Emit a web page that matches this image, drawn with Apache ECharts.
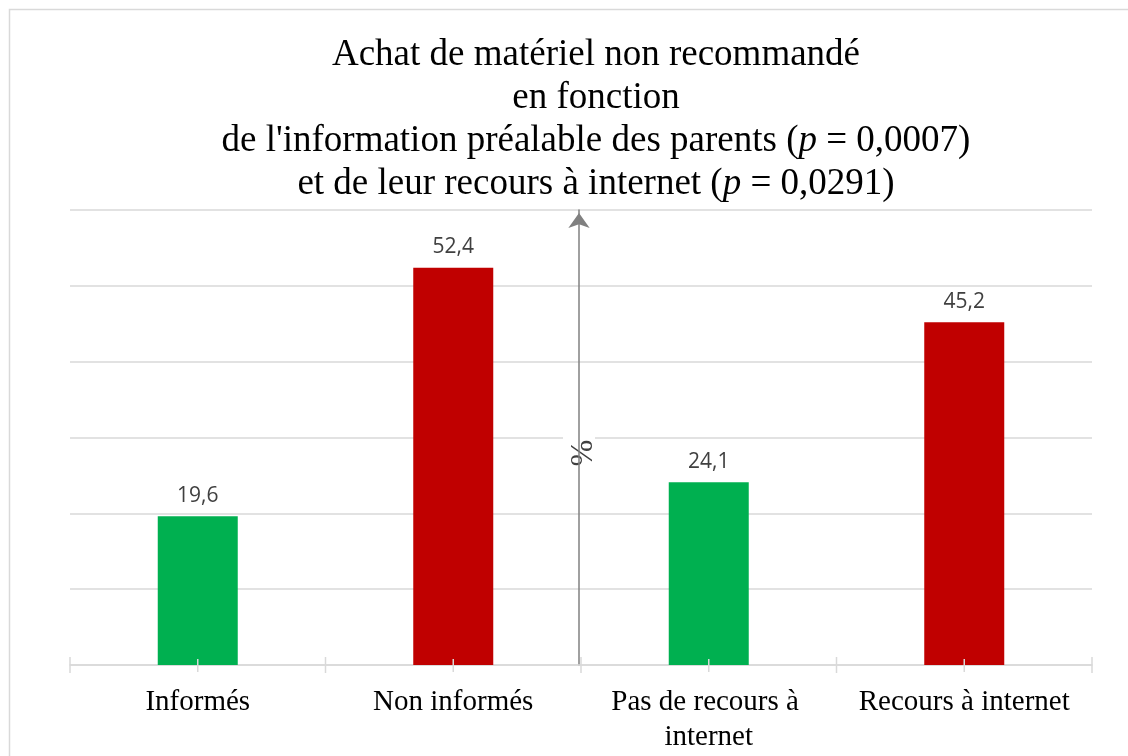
<!DOCTYPE html>
<html>
<head>
<meta charset="utf-8">
<script src="https://cdn.jsdelivr.net/npm/echarts@6/dist/echarts.min.js"></script>
<style>html,body{margin:0;padding:0;background:#fff}#c{width:1128px;height:756px}</style>
</head>
<body>
<div id="c"></div>
<script>
const categories = ['Informés', 'Non informés', 'Pas de recours à internet', 'Recours à internet'];
const values = [19.6, 52.4, 24.1, 45.2];
const barColors = ['#00B050', '#C00000', '#00B050', '#C00000'];
const yTicks = { min: 0, max: 60, interval: 10 };
const titleLines = [
  'Achat de matériel non recommandé',
  'en fonction',
  "de l'information préalable des parents ({i|p} = 0,0007)",
  'et de leur recours à internet ({i|p} = 0,0291)'
];

const chart = echarts.init(document.getElementById('c'));
const serif = 'Liberation Serif';
const gridLine = '#d9d9d9';

// tick marks at category boundaries and centres, placed through the category scale
function renderTicks(params, api) {
  const i = api.value(0);
  const p = api.coord([i, 0]);
  const w = api.size([1, 0])[0];
  const xs = [p[0] - w / 2, p[0]];
  if (i === categories.length - 1) xs.push(p[0] + w / 2);
  return {
    type: 'group',
    children: xs.map((x, k) => ({
      type: 'line',
      shape: { x1: x, y1: p[1] - (k === 1 ? 6 : 8), x2: x, y2: p[1] + (k === 1 ? 7 : 8) },
      style: { stroke: gridLine, lineWidth: 1.5 }
    }))
  };
}

chart.setOption({
  animation: false,
  backgroundColor: '#fff',
  graphic: [{
    type: 'rect', left: 7, top: 7, silent: true, z: -1,
    shape: { width: 1200, height: 800 },
    style: { fill: 'none', stroke: '#d9d9d9', lineWidth: 1.5 }
  }],
  title: {
    text: titleLines.join('\n'),
    left: 591, top: 29, textAlign: 'center',
    textStyle: {
      fontFamily: serif, fontSize: 37, fontWeight: 'normal', color: '#000', lineHeight: 43,
      rich: { i: { fontFamily: serif, fontSize: 37, fontStyle: 'italic', color: '#000', lineHeight: 43 } }
    }
  },
  grid: { left: 70, right: 36, top: 210, bottom: 91 },
  xAxis: {
    type: 'category', data: categories, position: 'bottom',
    axisLine: { show: true, lineStyle: { color: gridLine, width: 1.5 } },
    axisTick: { show: false },
    axisLabel: {
      color: '#000', fontFamily: serif, fontSize: 29, lineHeight: 35, margin: 20,
      width: 240, overflow: 'break', interval: 0
    },
    splitLine: { show: false }
  },
  yAxis: {
    type: 'value', min: yTicks.min, max: yTicks.max, interval: yTicks.interval,
    position: 'left', offset: -509,
    axisLine: {
      show: true, symbol: ['none', 'arrow'], symbolSize: [16, 15], symbolOffset: [0, -3],
      lineStyle: { color: '#808080', width: 1.5 }
    },
    axisTick: { show: false },
    axisLabel: { show: false },
    splitLine: { show: true, lineStyle: { color: gridLine, width: 1.5 } },
    name: '%', nameLocation: 'middle', nameGap: 0, nameRotate: -90,
    nameTextStyle: {
      fontFamily: serif, fontSize: 32, color: '#404040', align: 'center', verticalAlign: 'middle',
      backgroundColor: '#fff', padding: [0, 3, 0, 34]
    }
  },
  series: [{
    type: 'bar', barWidth: 80, z: 3,
    data: values.map((v, i) => ({ value: v, itemStyle: { color: barColors[i] } })),
    label: {
      show: true, position: 'top', distance: 10,
      fontFamily: 'Open Sans', fontSize: 21, color: '#404040',
      formatter: (p) => String(p.value).replace('.', ',')
    }
  }, {
    type: 'custom', clip: false, silent: true, z: 4,
    encode: { x: 0, y: 1 },
    data: categories.map((c, i) => [i, 0]),
    renderItem: renderTicks
  }]
});
</script>
</body>
</html>
